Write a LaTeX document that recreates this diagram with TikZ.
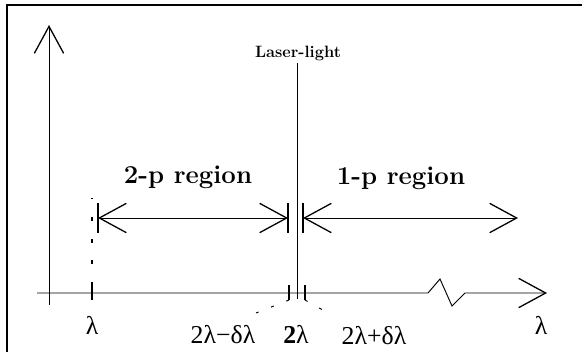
\documentclass[tikz,border=0pt]{standalone}
\usepackage{fontspec}
\newfontfamily\greekfont{Liberation Serif}
\usetikzlibrary{arrows.meta}

\begin{document}
\begin{tikzpicture}[
        x=0.03cm, y=-0.03cm,
        >={Straight Barb[length=8.1mm, width=8.8mm, line width=1.1pt]},
        axis/.style={line width=0.8pt},
        tick/.style={line width=0.9pt},
        guide/.style={line width=0.9pt, dash pattern=on 1.2mm off 5.3mm},
        leader/.style={line width=0.8pt, dash pattern=on 0.9mm off 4mm},
        greek/.style={font=\greekfont\fontsize{22}{25}\selectfont, inner sep=0pt},
        region/.style={font=\bfseries\fontsize{22}{27}\selectfont, inner sep=0pt, anchor=base},
      ]
        \useasboundingbox (0,0) rectangle (582,352);
        \draw[line width=1.2pt] (582,5) -- (7,5) -- (7,352);

        % axes
        \coordinate (ybot) at (49,305);
        \coordinate (ytop) at (49,25);
        \coordinate (xleft) at (37,293);
        \coordinate (brk1) at (428,293);
        \coordinate (brk2) at (440,279);
        \coordinate (brk3) at (452,306);
        \coordinate (brk4) at (465,293);
        \coordinate (xright) at (547,293);
        \draw[axis, ->] (ybot) -- (ytop);
        \draw[axis, ->] (xleft) -- (brk1) -- (brk2) -- (brk3) -- (brk4) -- (xright);

        % laser line
        \node[font=\bfseries\fontsize{14}{16}\selectfont, inner sep=0pt, anchor=base]
          (laser) at (298,57) {Laser-light};
        \coordinate (ltop) at (297,63);
        \coordinate (lbot) at (297,299);
        \draw[axis] (ltop) -- (lbot);

        % ticks
        \coordinate (lamT) at (92,286);
        \coordinate (lamB) at (92,300);
        \coordinate (minT) at (289,285);
        \coordinate (minB) at (289,300);
        \coordinate (plsT) at (305,285);
        \coordinate (plsB) at (305,300);
        \draw[tick] (lamT) -- (lamB);
        \draw[tick] (minT) -- (minB);
        \draw[tick] (plsT) -- (plsB);
        \coordinate (lamUp) at (92,198);
        \draw[guide] (lamT) -- (lamUp);

        % region arrows
        \coordinate (bar1T) at (98,203);
        \coordinate (bar1B) at (98,233);
        \coordinate (bar2T) at (288,203);
        \coordinate (bar2B) at (288,233);
        \coordinate (bar3T) at (303,203);
        \coordinate (bar3B) at (303,233);
        \draw[tick] (bar1T) -- (bar1B);
        \draw[tick] (bar2T) -- (bar2B);
        \draw[tick] (bar3T) -- (bar3B);
        \coordinate (twoL) at (98,218);
        \coordinate (twoR) at (288,218);
        \coordinate (oneL) at (303,218);
        \coordinate (oneR) at (518,218);
        \draw[axis, <->] (twoL) -- (twoR);
        \draw[axis, <->] (oneL) -- (oneR);
        \node[region] (two) at (188,183) {2-p region};
        \node[region] (one) at (401,184) {1-p region};

        % labels
        \node[greek] (lam) at (92,325) {λ};
        \node[greek] (lamR) at (541,325) {λ};
        \node[greek] (minus) at (223,335) {2λ−δλ};
        \node[greek] (twolam) at (296,334) {{\bfseries 2}λ};
        \node[greek] (plus) at (374,336) {2λ+δλ};
        \coordinate (minLd) at (256,313);
        \coordinate (plsLd) at (330,314);
        \draw[leader] (minB) -- (minLd);
        \draw[leader] (plsB) -- (plsLd);
      \end{tikzpicture}
\end{document}
